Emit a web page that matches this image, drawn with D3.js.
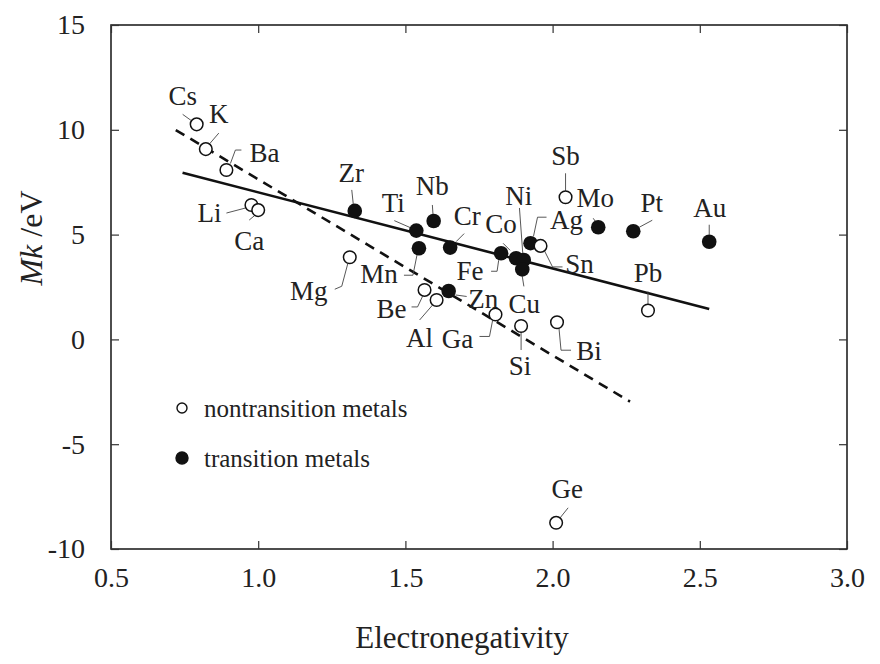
<!DOCTYPE html>
<html><head><meta charset="utf-8">
<script src="https://cdn.jsdelivr.net/npm/d3@7"></script>
<style>body{margin:0;background:#fff}svg{display:block}svg text{font-family:'Liberation Serif','Times New Roman',serif;fill:#222}</style>
</head><body><svg id="c" width="880" height="664" font-family="Liberation Serif"></svg>
<script>
// ---- data ----
const nonNames = ["Cs","K","Ba","Li","Ca","Mg","Be","Al","Ga","Si","Bi","Sn","Sb","Pb","Ge"];
const nonX = [0.791,0.822,0.892,0.977,1.000,1.311,1.565,1.606,1.806,1.893,2.015,1.959,2.044,2.324,2.012];
const nonY = [10.26,9.08,8.08,6.41,6.17,3.92,2.36,1.88,1.19,0.64,0.82,4.46,6.78,1.38,-8.75];
const trNames = ["Zr","Ti","Nb","Mn","Cr","Fe","Co","Ni","Cu","Ag","Zn","Mo","Pt","Au"];
const trX = [1.328,1.537,1.596,1.546,1.652,1.825,1.876,1.902,1.897,1.925,1.647,2.155,2.274,2.532];
const trY = [6.13,5.19,5.65,4.35,4.38,4.11,3.87,3.79,3.34,4.59,2.31,5.35,5.16,4.66];
const solidFitX = [0.743,2.532], solidFitY = [7.95,1.45];
const dashFitX = [0.720,2.263], dashFitY = [9.99,-2.97];
const xTicks = [0.5,1.0,1.5,2.0,2.5,3.0];
const yTicks = [15,10,5,0,-5,-10];
const legendLabels = ["nontransition metals","transition metals"];

// ---- label layout (pixel offsets from the marker: text centre x, baseline y, leader polyline) ----
const labelLayout = {
 Cs:[-14,-19,[[-14,-10],[-5,-3.5]]],
 K:[13,-26,[[13,-16],[4,-5.5]]],
 Ba:[38,-8,[[15,-20],[9,-20],[4,-6.5]]],
 Li:[-42,17,[[-25,8],[-6,3]]],
 Ca:[-9,40,[[-9,10],[-3,5]]],
 Mg:[-41,43,[[-15,32],[-8,29],[-2,6.5]]],
 Be:[-33,28,[[-13,17],[-7,17],[-2,6.5]]],
 Al:[-17,47,[[-17,20],[-4,5]]],
 Ga:[-38,34,[[-16,22],[-6,22],[-3,6.5]]],
 Si:[-1,49,[[0,24],[0,6.5]]],
 Bi:[32,38,[[2,6.5],[4,28],[14,28]]],
 Sn:[39,27,[[22,21],[12,21],[4,5]]],
 Sb:[0,-32,[[0,-24],[0,-6.5]]],
 Pb:[0,-28.5,[[0,-19],[0,-6.5]]],
 Ge:[11,-25,[[12,-15],[4,-5]]],
 Zr:[-3.5,-29,[[-3,-21],[-1.5,-7]]],
 Ti:[-23,-19,[[-22,-10],[-6,-3]]],
 Nb:[-1.5,-26,[[-1.3,-16],[-0.7,-7]]],
 Mn:[-40,35,[[-15,27],[-6,27],[-2,7]]],
 Cr:[17,-23,[[14,-14],[6,-6]]],
 Fe:[-31,27,[[-10,18],[-4,18],[-2.4,7]]],
 Co:[-15,-25,[[-13,-15],[-6,-8]]],
 Ni:[-5,-55,[[-4.3,-52],[-1,-7]]],
 Cu:[2,44,[[1.6,17],[0,7]]],
 Ag:[36,-14.5,[[16,-26],[7,-26],[3,-7]]],
 Zn:[34.5,17,[[7,4],[18,5.5]]],
 Mo:[-3,-20,[[-5,-9],[-3,-6]]],
 Pt:[18.5,-19,[[19,-11],[6,-4]]],
 Au:[0.5,-25,[[0,-17],[0,-7]]]
};

const FONT = "'Liberation Serif','Times New Roman',serif";
const svg = d3.select("#c");
const L=111, R=847, T=25, B=549;
const x = d3.scaleLinear().domain([0.5,3.0]).range([L,R]);
const y = d3.scaleLinear().domain([-10,15]).range([B,T]);

// frame
svg.append("rect").attr("x",L).attr("y",T).attr("width",R-L).attr("height",B-T)
  .attr("fill","none").attr("stroke","#222").attr("stroke-width",1.6);

// axes (inward ticks)
const tl=8;
const gx = svg.append("g").attr("transform",`translate(0,${B})`)
  .call(d3.axisBottom(x).tickValues(xTicks).tickSize(-tl).tickPadding(18).tickFormat(d=>d.toFixed(1)));
const gxTop = svg.append("g").attr("transform",`translate(0,${T})`)
  .call(d3.axisTop(x).tickValues(xTicks).tickSize(-tl).tickFormat(""));
const gy = svg.append("g").attr("transform",`translate(${L},0)`)
  .call(d3.axisLeft(y).tickValues(yTicks).tickSize(-tl).tickPadding(26).tickFormat(d=>String(d)));
const gyR = svg.append("g").attr("transform",`translate(${R},0)`)
  .call(d3.axisRight(y).tickValues(yTicks).tickSize(-tl).tickFormat(""));
[gx,gxTop,gy,gyR].forEach(g=>{
  g.attr("font-family",FONT);
  g.select(".domain").remove();
  g.selectAll(".tick line").attr("stroke","#333").attr("stroke-width",1.2);
  g.selectAll(".tick text").attr("font-family",FONT).attr("font-size",28).attr("fill","#222");
});

// axis titles
svg.append("text").attr("x",(L+R)/2-17).attr("y",648).attr("text-anchor","middle")
  .attr("font-family",FONT).attr("font-size",31).text("Electronegativity");
const yt = svg.append("text").attr("transform","translate(42,238) rotate(-90)").attr("text-anchor","middle")
  .attr("font-family",FONT).attr("font-size",32);
yt.append("tspan").attr("font-style","italic").text("Mk");
yt.append("tspan").text(" /eV");

// fit lines
const line = d3.line().x(d=>x(d[0])).y(d=>y(d[1]));
svg.append("path").datum(d3.zip(solidFitX,solidFitY)).attr("d",line)
  .attr("fill","none").attr("stroke","#111").attr("stroke-width",2.6);
svg.append("path").datum(d3.zip(dashFitX,dashFitY)).attr("d",line)
  .attr("fill","none").attr("stroke","#111").attr("stroke-width",2.6).attr("stroke-dasharray","10,7");

// points
const nonData = nonNames.map((n,i)=>({n,x:nonX[i],y:nonY[i]}));
const trData = trNames.map((n,i)=>({n,x:trX[i],y:trY[i]}));
const all = nonData.concat(trData);

// leaders + labels
const lg = svg.append("g");
all.forEach(d=>{
  const px=x(d.x), py=y(d.y), lay=labelLayout[d.n];
  lg.append("path").attr("d",d3.line()(lay[2].map(p=>[px+p[0],py+p[1]])))
    .attr("fill","none").attr("stroke","#444").attr("stroke-width",0.9);
  lg.append("text").attr("x",px+lay[0]).attr("y",py+lay[1]).attr("text-anchor","middle")
    .attr("font-family",FONT).attr("font-size",27).text(d.n);
});

svg.append("g").selectAll("circle").data(trData).join("circle")
  .attr("cx",d=>x(d.x)).attr("cy",d=>y(d.y)).attr("r",7.3).attr("fill","#111");
svg.append("g").selectAll("circle").data(nonData).join("circle")
  .attr("cx",d=>x(d.x)).attr("cy",d=>y(d.y)).attr("r",6.3).attr("fill","#fff").attr("stroke","#111").attr("stroke-width",1.5);

// legend
const leg = svg.append("g");
[[408,true],[458,false]].forEach((e,i)=>{
  leg.append("circle").attr("cx",182).attr("cy",e[0]).attr("r",e[1]?5:6)
    .attr("fill",e[1]?"#fff":"#111").attr("stroke","#111").attr("stroke-width",1.4);
  leg.append("text").attr("x",204).attr("y",e[0]+9).attr("font-family",FONT).attr("font-size",25).text(legendLabels[i]);
});
</script></body></html>
